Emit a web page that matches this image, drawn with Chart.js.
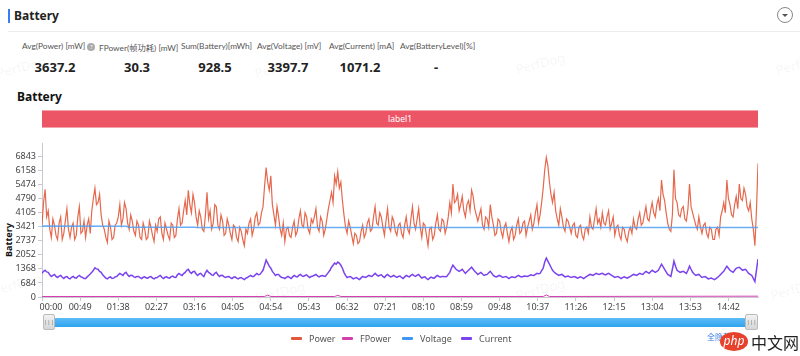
<!DOCTYPE html>
<html>
<head>
<meta charset="utf-8">
<script src="https://cdn.jsdelivr.net/npm/chart.js@4.4.1/dist/chart.umd.min.js"></script>
<style>
  html, body { margin:0; padding:0; background:#fff; }
  body { width:800px; height:356px; position:relative; overflow:hidden; font-family:"Noto Sans","Noto Sans CJK SC",sans-serif; color:#333; }
  .abs { position:absolute; white-space:nowrap; }
  .wm { position:absolute; color:rgba(0,0,0,0.06); font-size:13px; transform:rotate(-15deg); white-space:nowrap; }
  .stat-l { position:absolute; top:41px; font-size:8.3px; color:#555; white-space:nowrap; font-family:Lato,"Noto Sans CJK SC",sans-serif; }
  .stat-v { position:absolute; top:58px; font-size:13px; font-weight:bold; color:#222; transform:translateX(-50%); white-space:nowrap; }
  .leg { position:absolute; top:332px; font-size:9px; color:#555; display:flex; align-items:center; }
  .leg i { display:inline-block; width:11px; height:3px; margin-right:7px; border-radius:1px; }
</style>
</head>
<body>
<div class="abs" style="left:8px;top:9px;width:2px;height:14px;background:#3c7bf6;"></div>
<div class="abs" style="left:14px;top:7px;font-size:12px;font-weight:bold;color:#222;">Battery</div>
<div class="abs" style="left:777px;top:7px;width:16px;height:16px;border:1px solid #888;border-radius:50%;box-sizing:border-box;"></div>
<div class="abs" style="left:782px;top:14px;width:0;height:0;border-left:3px solid transparent;border-right:3px solid transparent;border-top:3px solid #555;"></div>
<div class="abs" style="left:8px;top:31px;width:792px;height:1px;background:#ececf0;"></div>

<div class="wm" style="left:-4px;top:58px;">PerfDog</div>
<div class="wm" style="left:254px;top:58px;">PerfDog</div>
<div class="wm" style="left:515px;top:54px;">PerfDog</div>
<div class="wm" style="left:775px;top:55px;">PerfDog</div>
<div class="wm" style="left:-8px;top:275px;">PerfDog</div>
<div class="wm" style="left:255px;top:283px;">PerfDog</div>
<div class="wm" style="left:515px;top:280px;">PerfDog</div>
<div class="wm" style="left:770px;top:280px;">PerfDog</div>

<div id="stats"></div>

<div class="abs" style="left:17px;top:88px;font-size:12px;font-weight:bold;color:#111;">Battery</div>
<div class="abs" style="left:42px;top:110px;width:716px;height:18px;background:#ec5566;border-top:1px solid #f4a3ab;border-bottom:1px solid #f4a3ab;box-sizing:border-box;color:#fff;font-size:8.5px;line-height:16px;text-align:center;">label1</div>

<div class="abs" style="left:2px;top:240px;font-size:9px;font-weight:bold;color:#111;transform:translate(0,-50%) rotate(-90deg);transform-origin:center;width:36px;text-align:center;margin-left:-12px;">Battery</div>

<canvas id="c" style="position:absolute;left:0;top:135px;width:800px;height:221px;"></canvas>

<div class="abs" style="left:43px;top:318px;width:714px;height:9px;background:linear-gradient(#5cbcf7,#2fa4ee);"></div>
<div class="abs" style="left:43px;top:314px;width:12px;height:16px;background:linear-gradient(#f2f2f2,#d6d6d6);border:1px solid #bbb;border-radius:2px;box-sizing:border-box;font-size:6px;line-height:14px;text-align:center;color:#777;">|||</div>
<div class="abs" style="left:745px;top:314px;width:13px;height:16px;background:linear-gradient(#f2f2f2,#d6d6d6);border:1px solid #bbb;border-radius:2px;box-sizing:border-box;font-size:6px;line-height:14px;text-align:center;color:#777;">|||</div>

<div id="legend"></div>
<div class="abs" style="left:707px;top:331px;font-size:8px;color:#3b7be0;">全隐藏</div>
<div class="abs" style="left:720px;top:332px;width:28px;height:19px;border-radius:50%;background:#e8412b;color:#fff;font-size:12px;font-style:italic;line-height:18px;text-align:center;">php</div>
<div class="abs" style="left:751px;top:330px;font-size:16px;color:#222;font-family:'Noto Sans CJK SC',sans-serif;">中文网</div>

<script>
// ---------- data ----------
const statLabels = ['Avg(Power) [mW]', 'FPower(帧功耗) [mW]', 'Sum(Battery)[mWh]', 'Avg(Voltage) [mV]', 'Avg(Current) [mA]', 'Avg(BatteryLevel)[%]'];
const statValues = ['3637.2', '30.3', '928.5', '3397.7', '1071.2', '-'];
const seriesNames = ['Power', 'FPower', 'Voltage', 'Current'];
const seriesColors = ['#e2583a', '#d43fae', '#3f97f3', '#7a43ee'];

const sampleStepSec = 4; // seconds between the main samples; the "mid" samples sit halfway between
const power = [
  3500, 5250, 4200, 2900, 3500, 2800, 3900, 3100, 4300, 2900,
  3600, 3000, 4400, 3200, 2900, 3800, 4200, 5300, 4600, 4000,
  3300, 2650, 3400, 2900, 3600, 4500, 3800, 4300, 3300, 3700,
  3000, 3500, 2800, 3300, 2900, 3400, 2700, 3200, 3900, 2800,
  3300, 2800, 3500, 3000, 4300, 3600, 4700, 5200, 4100, 4600,
  3500, 3900, 3200, 5100, 4200, 3600, 4400, 3300, 3700, 3100,
  3500, 2800, 3400, 2700, 3200, 2500, 3100, 3800, 3300, 4100,
  3600, 4400, 6300, 5200, 4500, 3500, 3900, 3000, 2700, 3400,
  2900, 3700, 3200, 4200, 3400, 3900, 3100, 3600, 4300, 3200,
  3700, 3300, 4300, 5100, 5900, 6100, 5600, 4000, 3100, 3400,
  2600, 3000, 2700, 3500, 3100, 3800, 3300, 4400, 3500, 3900,
  3000, 4300, 3200, 3700, 3000, 3600, 2900, 3900, 3100, 4400,
  3300, 4300, 2900, 3500, 2500, 3400, 3000, 4000, 3200, 3700,
  3400, 4600, 5500, 4700, 4200, 4900, 3900, 4700, 5200, 4300,
  3700, 4300, 3300, 3800, 4500, 3500, 3100, 3700, 2900, 3600,
  2700, 3400, 3000, 3800, 3200, 3700, 3400, 4000, 3600, 4500,
  4000, 5300, 6800, 5600, 4600, 4200, 3500, 3900, 3200, 3700,
  3100, 3600, 2900, 3500, 2800, 3400, 3900, 3300, 4300, 3800,
  4100, 3500, 4200, 3600, 3000, 3500, 2800, 3300, 2700, 3400,
  3800, 3300, 4100, 3600, 4400, 3700, 4600, 3900, 4800, 5700,
  4700, 3600, 3200, 6200, 4600, 3900, 4400, 3700, 5500, 4100,
  3500, 3900, 3100, 3600, 2900, 3300, 2800, 3400, 3900, 4600,
  5700, 4500, 3900, 4900, 5500, 4700, 5000, 4200, 3800, 2500,
  6500
];
const powerMid = [
  4600, 3900, 3300, 3800, 3000, 3600, 2800, 3700, 3300, 3400,
  2800, 3900, 3100, 3700, 3500, 3100, 4800, 4500, 5000, 3500,
  2900, 3700, 2800, 3500, 3900, 3500, 4600, 3600, 4000, 3200,
  3700, 2900, 3600, 2800, 3700, 3000, 3500, 3800, 3100, 3600,
  3000, 3600, 2900, 3800, 3500, 4200, 4000, 4500, 5000, 3900,
  4200, 3300, 4000, 3800, 3300, 4500, 3500, 4000, 3000, 3800,
  3100, 3500, 2900, 3400, 2800, 3300, 3600, 3000, 3900, 3500,
  4100, 5400, 5600, 5900, 4000, 4400, 3300, 3600, 3300, 3000,
  3400, 3000, 3800, 3500, 4100, 3300, 3800, 3900, 3400, 3900,
  3000, 3800, 4700, 4600, 5500, 5300, 4700, 3400, 3700, 3000,
  3100, 2600, 3200, 2900, 3600, 3200, 3900, 3600, 4100, 3400,
  3700, 3400, 3900, 3200, 3500, 3100, 3500, 3300, 3800, 3600,
  3800, 3400, 3600, 3000, 3300, 2800, 3600, 3300, 3800, 3100,
  3900, 4100, 4600, 5000, 4500, 4200, 4500, 4200, 4900, 4000,
  4000, 3500, 3900, 3400, 3900, 3000, 3800, 3200, 3400, 3100,
  3200, 2800, 3500, 3100, 3600, 3000, 3700, 3300, 4100, 3600,
  4600, 6200, 6400, 5000, 5100, 3800, 4300, 3400, 3800, 3400,
  3500, 3000, 3400, 3000, 3300, 3100, 3400, 3800, 3600, 3400,
  3600, 3900, 3300, 3900, 3400, 3000, 3400, 2900, 3200, 3100,
  3400, 3800, 3500, 4000, 3800, 4200, 4100, 4500, 4200, 5000,
  4100, 3300, 4000, 4800, 4000, 4300, 3800, 4300, 4400, 3800,
  3300, 3400, 3500, 3100, 3400, 2800, 3300, 3000, 4200, 4100,
  4800, 4000, 4500, 4300, 4800, 5300, 4400, 4600, 3300, 4200
];
const current = [
  1150, 1300, 1200, 1000, 1100, 950, 1050, 900, 1000, 880,
  1000, 920, 1050, 950, 900, 1050, 1200, 1420, 1350, 1200,
  1000, 880, 980, 920, 1000, 1150, 1050, 1200, 1000, 1050,
  950, 1000, 900, 980, 920, 1000, 880, 950, 1050, 900,
  980, 920, 1020, 950, 1150, 1050, 1200, 1350, 1150, 1250,
  1050, 1150, 1000, 1300, 1150, 1050, 1200, 1000, 1050, 950,
  1000, 900, 980, 880, 950, 850, 950, 1050, 1000, 1150,
  1100, 1300, 1800, 1500, 1250, 1050, 1100, 950, 900, 1000,
  900, 1050, 980, 1100, 1000, 1080, 950, 1020, 1100, 980,
  1050, 1000, 1200, 1450, 1650, 1700, 1550, 1200, 950, 1000,
  880, 950, 850, 1000, 950, 1050, 1000, 1150, 1020, 1080,
  950, 1100, 980, 1050, 950, 1020, 900, 1050, 980, 1100,
  1000, 1100, 920, 980, 850, 970, 920, 1050, 980, 1000,
  1000, 1200, 1550, 1350, 1250, 1350, 1150, 1300, 1450, 1250,
  1100, 1200, 1050, 1100, 1250, 1050, 980, 1050, 950, 1000,
  900, 980, 950, 1050, 980, 1020, 1000, 1080, 1050, 1150,
  1150, 1400, 1900, 1600, 1300, 1150, 1050, 1100, 980, 1020,
  950, 1000, 920, 980, 900, 1000, 1100, 1050, 1150, 1100,
  1150, 1080, 1150, 1050, 950, 1000, 900, 980, 920, 1000,
  1100, 1050, 1150, 1100, 1250, 1150, 1300, 1200, 1300, 1600,
  1350, 1100, 1000, 1750, 1300, 1200, 1250, 1150, 1500, 1200,
  1050, 1100, 950, 1000, 880, 920, 850, 950, 1100, 1250,
  1500, 1300, 1200, 1400, 1450, 1300, 1350, 1150, 1050, 750,
  1850
];
const currentMid = [
  1250, 1220, 1080, 1050, 1000, 1020, 960, 980, 920, 960,
  940, 1000, 980, 900, 980, 1120, 1300, 1370, 1250, 1080,
  920, 950, 900, 980, 1080, 1100, 1150, 1080, 1060, 980,
  1000, 940, 960, 930, 980, 920, 940, 1010, 960, 960,
  940, 990, 960, 1080, 1090, 1140, 1300, 1220, 1230, 1120,
  1120, 1060, 1180, 1200, 1080, 1150, 1080, 1060, 980, 990,
  940, 960, 920, 930, 890, 920, 1010, 1000, 1080, 1090,
  1200, 1550, 1650, 1400, 1150, 1100, 1000, 940, 960, 950,
  980, 1000, 1050, 1030, 1050, 1000, 1000, 1060, 1030, 1020,
  1020, 1100, 1300, 1550, 1600, 1650, 1400, 1050, 980, 940,
  920, 900, 930, 970, 1000, 1020, 1080, 1080, 1060, 1000,
  1040, 1030, 1010, 990, 1000, 950, 980, 1010, 1050, 1040,
  1060, 1000, 960, 900, 920, 930, 990, 1000, 1000, 990,
  1100, 1400, 1450, 1300, 1300, 1250, 1230, 1380, 1350, 1180,
  1150, 1120, 1080, 1180, 1150, 1000, 1020, 1000, 980, 950,
  950, 960, 1000, 1010, 1000, 1010, 1040, 1060, 1100, 1130,
  1280, 1700, 1750, 1450, 1220, 1100, 1080, 1040, 1000, 980,
  980, 960, 950, 940, 950, 1050, 1080, 1100, 1120, 1130,
  1110, 1120, 1100, 1000, 980, 950, 940, 950, 960, 1050,
  1080, 1100, 1120, 1180, 1200, 1230, 1250, 1250, 1450, 1480,
  1220, 1050, 1350, 1500, 1250, 1230, 1200, 1300, 1350, 1120,
  1080, 1020, 980, 940, 900, 880, 900, 1020, 1180, 1380,
  1400, 1250, 1300, 1430, 1380, 1330, 1250, 1100, 900, 1300
];
const voltageTimes = [0, 108, 112, 196, 200, 920];
const voltage      = [3450, 3445, 3400, 3395, 3385, 3385];
const fpowerTimes  = [0, 286, 290, 294, 376, 380, 384, 644, 648, 652, 920];
const fpower       = [25, 25, 90, 25, 25, 80, 25, 25, 100, 25, 40];

const xTickSeconds = [0, 49, 98, 147, 196, 245, 294, 343, 392, 441, 490, 539, 588, 637, 686, 735, 784, 833, 882];
const xTickLabels  = ['00:00','00:49','01:38','02:27','03:16','04:05','04:54','05:43','06:32','07:21','08:10','08:59','09:48','10:37','11:26','12:15','13:04','13:53','14:42'];
const yTickValues  = [0, 684.3, 1368.6, 2052.9, 2737.2, 3421.5, 4105.8, 4790.1, 5474.4, 6158.7, 6843];
const yTickLabels  = ['0','684','1368','2052','2737','3421','4105','4790','5474','6158','6843'];
const xMaxSec = 920;
const yMax = 7500;

// ---------- html parts ----------
const statLefts = [22, 99, 181, 257, 329, 400];
const statCenters = [55, 137, 215, 288, 360, 436];
const statsEl = document.getElementById('stats');
statLabels.forEach((l, i) => {
  const a = document.createElement('div'); a.className = 'stat-l'; a.style.left = statLefts[i] + 'px';
  a.textContent = l;
  if (i === 0) { const q = document.createElement('span'); q.textContent = '?'; q.style.cssText = 'display:inline-block;width:8px;height:8px;border-radius:50%;background:#aaa;color:#fff;font-size:6px;line-height:8px;text-align:center;margin-left:2px;vertical-align:middle;'; a.appendChild(q); }
  statsEl.appendChild(a);
  const v = document.createElement('div'); v.className = 'stat-v'; v.style.left = statCenters[i] + 'px'; v.textContent = statValues[i];
  statsEl.appendChild(v);
});
const legendLefts = [291, 342, 402, 461];
const legEl = document.getElementById('legend');
seriesNames.forEach((n, i) => {
  const d = document.createElement('div'); d.className = 'leg'; d.style.left = legendLefts[i] + 'px';
  d.innerHTML = '<i style="background:' + seriesColors[i] + '"></i>' + n;
  legEl.appendChild(d);
});

// ---------- chart ----------
const pts = (times, vals) => vals.map((v, i) => ({ x: times[i], y: v }));
// merge main samples (t = 0,4,8,...) with the half-step samples (t = 2,6,10,...)
const mergeHalf = (main, mid) => {
  const out = [];
  main.forEach((v, i) => {
    out.push({ x: i * sampleStepSec, y: v });
    if (i < mid.length) out.push({ x: i * sampleStepSec + sampleStepSec / 2, y: mid[i] });
  });
  return out;
};

new Chart(document.getElementById('c'), {
  type: 'line',
  data: {
    datasets: [
      { label: 'Voltage', data: pts(voltageTimes, voltage), borderColor: 'rgba(80,160,245,0.85)', borderWidth: 1.6 },
      { label: 'FPower', data: pts(fpowerTimes, fpower), borderColor: seriesColors[1], borderWidth: 1 },
      { label: 'Current', data: mergeHalf(current, currentMid), borderColor: seriesColors[3], borderWidth: 1.5 },
      { label: 'Power', data: mergeHalf(power, powerMid), borderColor: 'rgba(226,88,58,0.9)', borderWidth: 1.2 }
    ]
  },
  options: {
    responsive: false,
    animation: false,
    devicePixelRatio: 1,
    layout: { padding: { left: 0, right: 42, top: 8, bottom: 39 } },
    elements: { point: { radius: 0 }, line: { tension: 0 } },
    plugins: { legend: { display: false }, tooltip: { enabled: false } },
    scales: {
      x: {
        type: 'linear', min: 0, max: xMaxSec,
        afterFit: s => { s.height = 20; },
        afterBuildTicks: s => { s.ticks = xTickSeconds.map(v => ({ value: v })); },
        ticks: {
          autoSkip: false, maxRotation: 0, padding: 1,
          font: { size: 9, family: 'Noto Sans' }, color: '#444',
          callback: (v, i) => (i === 0 ? '\u2002\u2002\u2002\u2002' : '') + xTickLabels[i]
        },
        grid: { drawOnChartArea: false, drawTicks: true, tickLength: 4, color: '#c8c8d0' },
        border: { display: true, color: '#c8c8d0' }
      },
      y: {
        type: 'linear', min: 0, max: yMax,
        afterFit: s => { s.width = 42; },
        afterBuildTicks: s => { s.ticks = yTickValues.map(v => ({ value: v })); },
        ticks: {
          autoSkip: false, padding: 2,
          font: { size: 9, family: 'Noto Sans' }, color: '#444',
          callback: (v, i) => yTickLabels[i]
        },
        grid: { drawOnChartArea: false, drawTicks: true, tickLength: 4, color: '#c8c8d0' },
        border: { display: true, color: '#c8c8d0' }
      }
    }
  }
});
</script>
</body>
</html>
